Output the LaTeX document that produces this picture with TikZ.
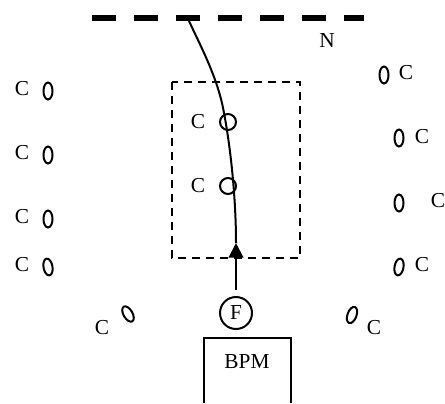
\documentclass[tikz,border=0pt]{standalone}
\usepackage{fontspec}
\setmainfont{Liberation Serif}
\usetikzlibrary{arrows.meta,positioning,calc}
\tikzset{sitelabel/.style={font=\fontsize{16}{19}\selectfont,inner sep=0pt},
	siteline/.style={line width=1.5pt}}

\begin{document}
\begin{tikzpicture}[x=0.75pt,y=-0.75pt]
		\useasboundingbox (0,0) rectangle (445,403);
		\draw[line width=4.5pt,dash pattern=on 18pt off 13.5pt] (92,18) -- (364,18);
		\node[sitelabel] (nlabel) at (327,41) {N};
		\draw[line width=1.3pt,dash pattern=on 6pt off 4.5pt] (172,82) rectangle (300,258);
		% channel
		\coordinate (tip) at (236,243);
		\draw[siteline] (189,21) .. controls (200,45) and (218,78) .. (224,113) .. controls (231,150) and (236,200) .. (tip);
		% inner sites
		\foreach \y/\name in {122/a,186/b}{
			\draw[siteline] (228,\y) circle (8);
			\node[sitelabel] (inner\name) at (198,\y) {C};
		}
		% left column
		\foreach \y/\name in {91/a,155/b,219/c}{
			\draw[siteline] (48,\y) ellipse (4.5 and 8.5);
			\node[sitelabel] (left\name) at (22,\y-2) {C};
		}
		\draw[siteline,rotate around={10:(48,267)}] (48,267) ellipse (4.5 and 8.5);
		\node[sitelabel] (leftd) at (22,265) {C};
		\draw[siteline,rotate around={30:(128,314)}] (128,314) ellipse (4.5 and 8.5);
		\node[sitelabel] (lefte) at (102,328) {C};
		% right column
		\draw[siteline] (384,75) ellipse (4.5 and 8.5);
		\node[sitelabel] (righta) at (406,73) {C};
		\draw[siteline] (399,138) ellipse (4.5 and 8.5);
		\node[sitelabel] (rightb) at (422,137) {C};
		\draw[siteline] (399,203) ellipse (4.5 and 8.5);
		\node[sitelabel] (rightc) at (438,201) {C};
		\draw[siteline,rotate around={-10:(399,267)}] (399,267) ellipse (4.5 and 8.5);
		\node[sitelabel] (rightd) at (422,265) {C};
		\draw[siteline,rotate around={-20:(352,315)}] (352,315) ellipse (4.5 and 8.5);
		\node[sitelabel] (righte) at (374,328) {C};
		% source
		\node[sitelabel,draw,siteline,circle,minimum size=24pt] (fnode) at (236,313) {F};
		\draw[siteline,-{Triangle[length=11pt,width=11pt]},shorten <=4.5pt] (fnode.north) -- (tip);
		\draw[siteline] (204,403) -- (204,338) -- (291,338) -- (291,403);
		\node[sitelabel] (bpm) at (247,362) {BPM};
		\end{tikzpicture}
\end{document}
